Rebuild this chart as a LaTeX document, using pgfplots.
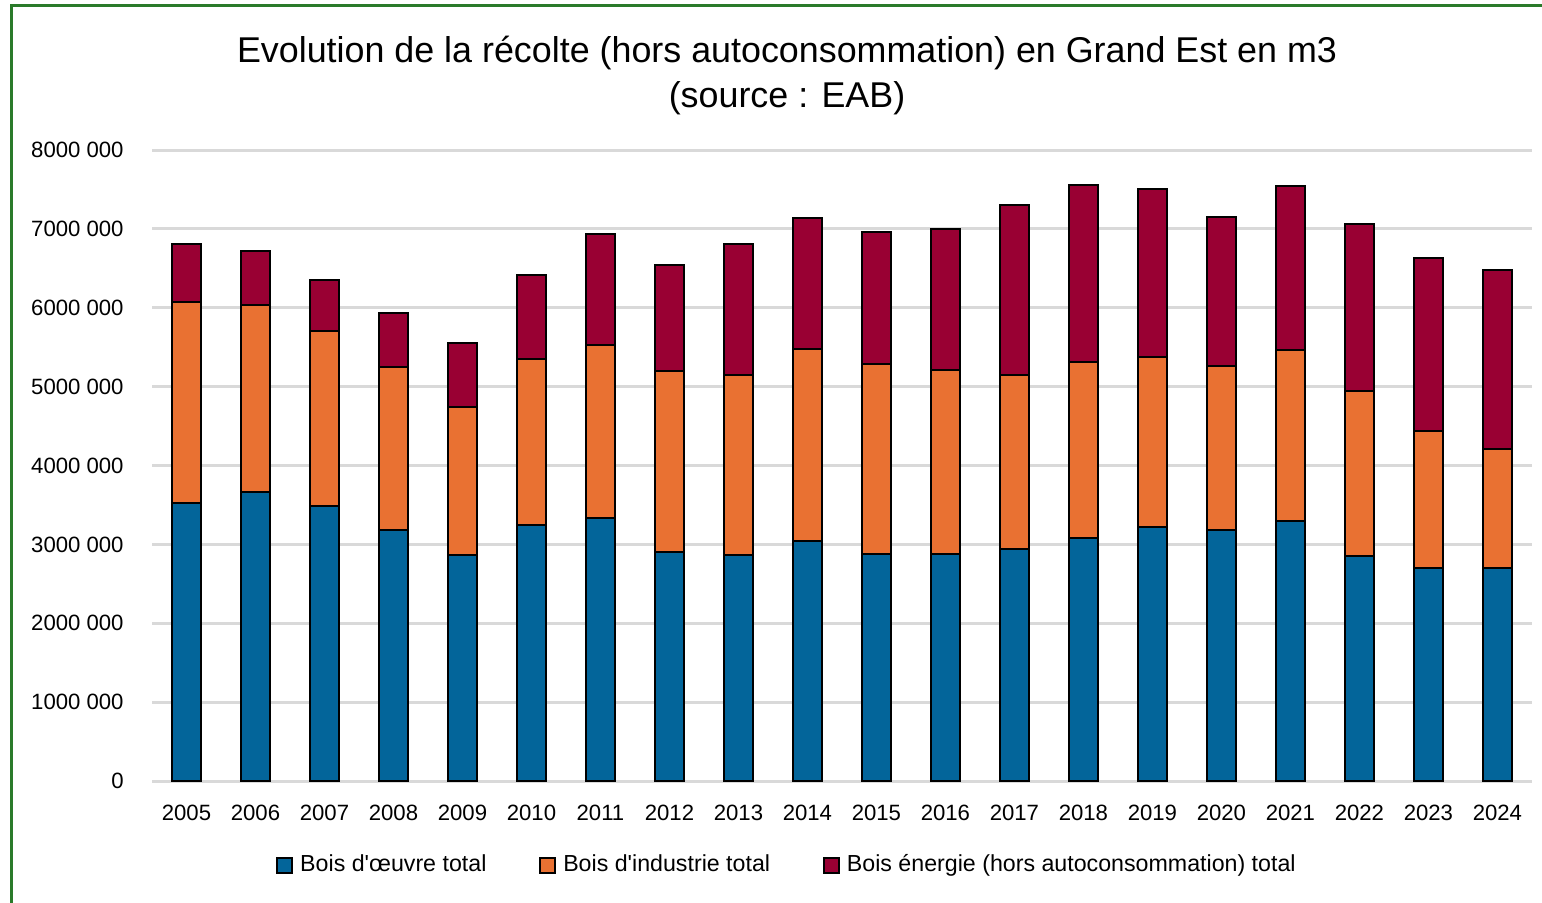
\documentclass[border=0pt]{standalone}
\usepackage{pgfplots}
\pgfplotsset{compat=1.18}
\usepackage{pgfplotstable}
\usepackage{fontspec}
\setmainfont{Liberation Sans}
\definecolor{oeuvre}{HTML}{03659A}
\definecolor{industrie}{HTML}{E97132}
\definecolor{energie}{HTML}{990033}
\definecolor{cadre}{HTML}{2A7A2A}
\definecolor{grille}{HTML}{D9D9D9}

% annee, bois d'oeuvre, bois d'industrie, bois energie (hors autoconsommation)
\pgfplotstableread{
annee oeuvre industrie energie
2005 3525000 2548000 735000
2006 3664000 2371000 685000
2007 3487000 2218000 647000
2008 3182000 2067000 684000
2009 2865000 1877000 811000
2010 3246000 2104000 1065000
2011 3334000 2194000 1407000
2012 2903000 2295000 1344000
2013 2865000 2282000 1661000
2014 3043000 2434000 1661000
2015 2878000 2409000 1673000
2016 2878000 2333000 1787000
2017 2941000 2206000 2156000
2018 3081000 2231000 2244000
2019 3220000 2156000 2130000
2020 3182000 2080000 1889000
2021 3296000 2168000 2080000
2022 2853000 2092000 2117000
2023 2700000 1737000 2194000
2024 2700000 1509000 2270000
}\recolte

\begin{document}
\begin{tikzpicture}
\path[use as bounding box] (0,0) rectangle (15.42,9.02);
\draw[cadre, line width=0.3mm] (0.12,-0.1) -- (0.12,8.97) -- (15.52,8.97);

\node[font=\fontsize{10.2}{12}\selectfont] at (7.87,8.49) {Evolution de la récolte (hors autoconsommation) en Grand Est en m3};
\node[font=\fontsize{10.2}{12}\selectfont] at (7.87,8.04) {(source : EAB)};

\begin{axis}[
    at={(1.52cm,1.21cm)}, anchor=south west,
    scale only axis,
    width=13.8cm, height=6.31cm,
    ybar stacked,
    bar width=2.85mm,
    xmin=2004.5, xmax=2024.5,
    ymin=0, ymax=8000000,
    xtick={2005,...,2024},
    ytick={0,1000000,...,8000000},
    scaled y ticks=false,
    yticklabels={0,1000 000,2000 000,3000 000,4000 000,5000 000,6000 000,7000 000,8000 000},
    /pgf/number format/.cd, 1000 sep={}, assume math mode=true, /pgfplots/.cd,
    tick label style={font=\fontsize{6.3}{7.5}\selectfont},
    yticklabel style={xshift=-1.6mm},
    xticklabel style={yshift=-1.2mm},
    major tick length=0pt,
    axis line style={draw=none},
    ymajorgrids,
    grid style={grille, line width=0.3mm},
    legend columns=3,
    legend style={draw=none, at={(0.462,-0.134)}, anchor=center,
        font=\fontsize{6.6}{7.8}\selectfont,
        /tikz/every even column/.append style={column sep=4.6mm}},
    legend image code/.code={\draw[#1, line width=0.5pt] (0mm,-0.75mm) rectangle (1.5mm,0.75mm);},
    every axis plot/.append style={draw=black, line width=0.7pt},
]
\addplot[fill=oeuvre] table[x=annee, y=oeuvre] {\recolte};
\addlegendentry{Bois d\textquotesingle œuvre total}
\addplot[fill=industrie] table[x=annee, y=industrie] {\recolte};
\addlegendentry{Bois d\textquotesingle industrie total}
\addplot[fill=energie] table[x=annee, y=energie] {\recolte};
\addlegendentry{Bois énergie (hors autoconsommation) total}
\end{axis}
\end{tikzpicture}
\end{document}
